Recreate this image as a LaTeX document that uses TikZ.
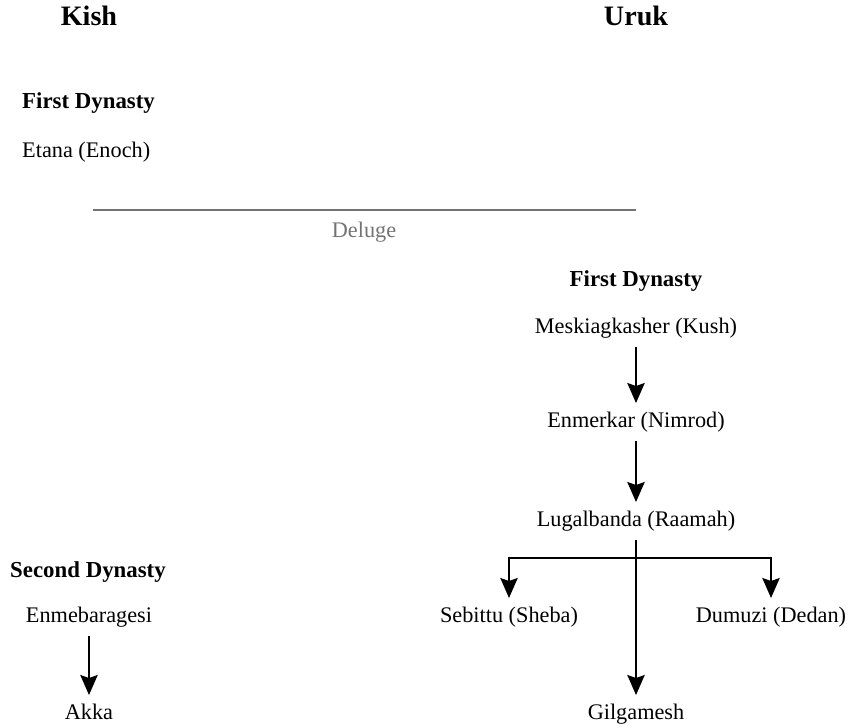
\documentclass[tikz,border=0pt]{standalone}
\usepackage{fontspec}
\setmainfont{Liberation Serif}
\usetikzlibrary{arrows.meta}
\begin{document}
\begin{tikzpicture}[x=0.03cm,y=-0.03cm]
	\tikzset{every node/.style={inner xsep=0pt,inner ysep=7.5pt,text height=13pt,text depth=4pt,font=\fontsize{19}{21}\selectfont},
		city/.style={font=\fontsize{24}{27}\selectfont\bfseries},
		dyn/.style={anchor=west,font=\fontsize{19.5}{21}\selectfont\bfseries},
		ruler/.style={},
		arr/.style={line width=1.7pt,-{Stealth[length=6mm,width=5.2mm,inset=0.9mm]}}}
	\useasboundingbox (0,0) rectangle (848,727);
	% cities
	\node [city] (kish) at (89,20) {Kish};
	\node [city] (uruk) at (636,20) {Uruk};
	% Kish, before the flood
	\node [dyn] (kfirst) at (22,103) {First Dynasty};
	\node [ruler,anchor=west] (etana) at (22,152) {Etana (Enoch)};
	% the flood
	\coordinate (dl) at (93,210);
	\coordinate (dr) at (636,210);
	\draw [black!55,line width=1.2pt] (dl) -- (dr);
	\node [text=black!55] (deluge) at (364,232) {Deluge};
	% Uruk
	\node [font=\fontsize{19.5}{21}\selectfont\bfseries] (ufirst) at (636,281) {First Dynasty};
	\node [ruler] (mesk) at (636,328) {Meskiagkasher (Kush)};
	\node [ruler] (enmer) at (636,422) {Enmerkar (Nimrod)};
	\node [ruler] (lugal) at (636,521) {Lugalbanda (Raamah)};
	\node [ruler] (sebit) at (509,617) {Sebittu (Sheba)};
	\node [ruler] (dumuz) at (771,617) {Dumuzi (Dedan)};
	\node [ruler] (gilga) at (636,714) {Gilgamesh};
	\coordinate (fork) at (636,558);
	\draw [arr] (mesk) -- (enmer);
	\draw [arr] (enmer) -- (lugal);
	\draw [line width=1.7pt] (lugal.south) -- (fork);
	\draw [arr] (fork) -| (sebit.north);
	\draw [arr] (fork) -| (dumuz.north);
	\draw [arr] (lugal) -- (gilga);
	% Kish, second dynasty
	\node [dyn] (ksecond) at (10,572) {Second Dynasty};
	\node [ruler] (enmeb) at (89,617) {Enmebaragesi};
	\node [ruler] (akka) at (89,714) {Akka};
	\draw [arr] (enmeb) -- (akka);

\end{tikzpicture}
\end{document}
